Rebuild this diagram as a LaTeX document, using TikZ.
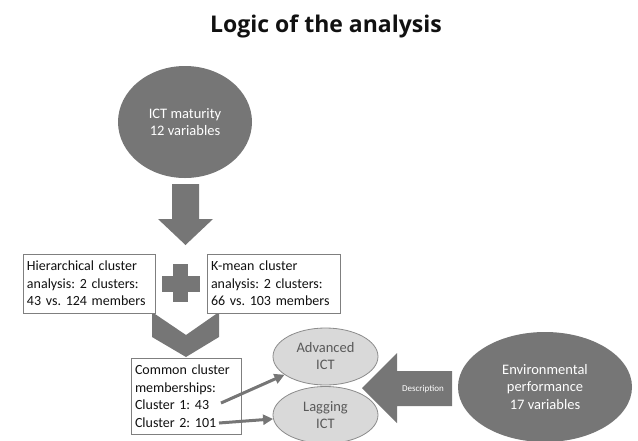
\documentclass[tikz,border=0pt]{standalone}
\usepackage{fontspec}
\setmainfont{Carlito}
\newfontfamily\titlefont{Open Sans}
\usetikzlibrary{arrows.meta, positioning, shapes.geometric}

\definecolor{blockgray}{HTML}{767676}
\definecolor{boxline}{HTML}{7F7F7F}
\definecolor{ovalfill}{HTML}{D9D9D9}
\definecolor{ovalline}{HTML}{8C8C8C}
\definecolor{ovaltext}{HTML}{595959}
\definecolor{textdark}{HTML}{111111}
\newcommand{\boxfont}{\fontsize{14}{17.5}\selectfont\frenchspacing
  \hyphenpenalty=10000\relax}

\begin{document}
\begin{tikzpicture}[x=1pt,y=-1pt,
    txtbox/.style={draw=boxline, line width=0.8pt, fill=white, align=left,
      inner sep=0pt, inner xsep=4pt, text=textdark, font=\boxfont},
    bigoval/.style={ellipse, fill=blockgray, text=white, align=center,
      inner sep=0pt, font=\fontsize{14.5}{17.5}\selectfont},
    smalloval/.style={ellipse, draw=ovalline, line width=0.8pt, fill=ovalfill,
      text=ovaltext, align=center, inner sep=0pt,
      minimum width=105pt, minimum height=57pt,
      font=\fontsize{14.5}{17}\selectfont},
    block/.style={fill=blockgray},
    link/.style={draw=blockgray, line width=3pt,
      -{Triangle[length=10pt,width=10pt]}}]
  \useasboundingbox (0,0) rectangle (638,440);
  % title
  \node[font=\titlefont\bfseries\fontsize{23}{26}\selectfont, text=textdark,
    anchor=base] (title) at (326,32) {Logic of the analysis};
  % input ovals
  \node[bigoval, minimum width=134pt, minimum height=112pt] (ict) at (185,122)
    {ICT maturity\\12 variables};
  \node[bigoval, minimum width=174pt, minimum height=110pt] (env) at (545,387)
    {Environmental\\performance\\17 variables};
  % block arrow down
  \fill[block] (172,184) -- (199,184) -- (199,219) -- (213,219) -- (185.5,245)
    -- (158,219) -- (172,219) -- cycle;
  % chevron below the boxes
  \fill[block] (152,312) -- (186,335) -- (219,312) -- (219,337) -- (186,357)
    -- (152,337) -- cycle;
  % clustering boxes
  \node[txtbox, text width=124pt, minimum height=59pt]
    (hier) at (89,283.5)
    {Hierarchical cluster\\analysis: 2 clusters:\\43 vs. 124 members};
  \node[txtbox, text width=125pt, minimum height=59pt]
    (kmean) at (273.5,283.5)
    {K-mean cluster\\analysis: 2 clusters:\\66 vs. 103 members};
  % plus sign
  \fill[block] (162,276) rectangle (200,292);
  \fill[block] (173,264) rectangle (188,302);
  % common memberships
  \node[txtbox, text width=102pt, minimum height=76pt]
    (common) at (186,396)
    {Common cluster\\memberships:\\Cluster 1: 43\\Cluster 2: 101};
  \coordinate (c1) at (221,403);
  \coordinate (c2) at (219,423);
  % result ovals
  \node[smalloval] (adv) at (325.5,356.5) {Advanced\\ICT};
  \node[smalloval] (lag) at (325.5,415) {Lagging\\ICT};
  \draw[link] (c1) -- (adv);
  \draw[link] (c2) -- (lag);
  % description arrow
  \fill[block] (362,388) -- (397,353) -- (397,371) -- (452,371) -- (452,406)
    -- (397,406) -- (397,423) -- cycle;
  \node[text=white, font=\fontsize{9}{10}\selectfont] (desc) at (423,389)
    {Description};
\end{tikzpicture}
\end{document}
